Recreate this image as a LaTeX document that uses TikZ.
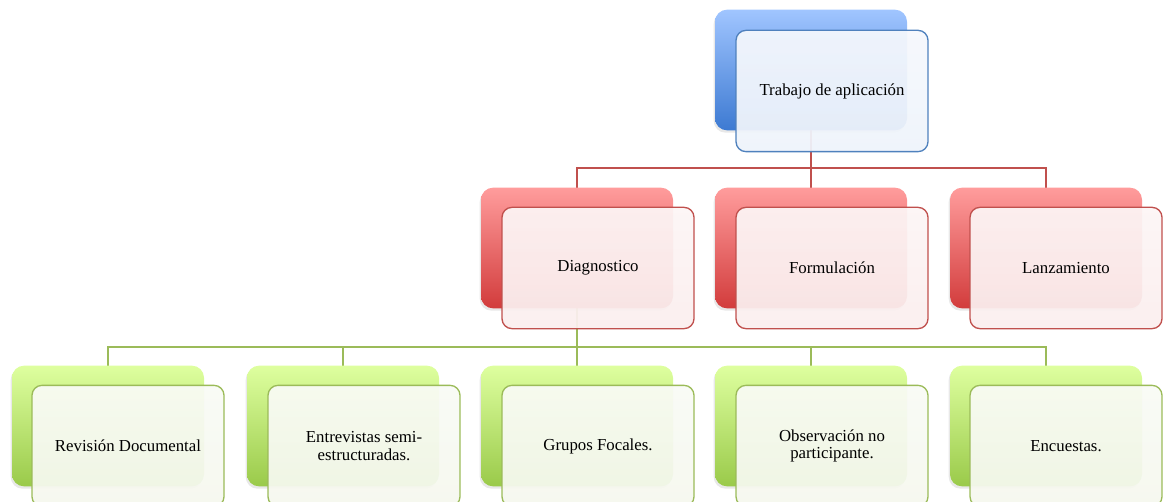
\documentclass[tikz,border=0pt]{standalone}
\usepackage{fontspec}
\setmainfont{Liberation Serif}
\usepackage{xcolor}
\usetikzlibrary{shadows,backgrounds}
\definecolor{bluetop}{HTML}{A0C5FF}
\definecolor{bluebot}{HTML}{3D7AD2}
\definecolor{blueline}{HTML}{4F81BD}
\definecolor{bluefill}{HTML}{EEF3FB}
\definecolor{redtop}{HTML}{FF9C9C}
\definecolor{redbot}{HTML}{D23C3C}
\definecolor{redline}{HTML}{C0504D}
\definecolor{redfill}{HTML}{FBEEEE}
\definecolor{greentop}{HTML}{DEFF9F}
\definecolor{greenbot}{HTML}{9ACA4A}
\definecolor{greenline}{HTML}{9BBB59}
\definecolor{greenfill}{HTML}{F5F8EE}
\tikzset{
every picture/.style={line cap=round,line join=round},
back box/.style={
  rounded corners=9pt,
  minimum width=144pt,
  minimum height=90.5pt,
  inner sep=0pt,
  outer sep=0pt,
  drop shadow={opacity=0.18,shadow xshift=-1pt,shadow yshift=-1.8pt}
},
front box/.style={
  draw,
  rounded corners=7.5pt,
  line width=1pt,
  minimum width=144pt,
  minimum height=91pt,
  inner sep=2pt,
  outer sep=0pt,
  align=center,
  font=\fontsize{12.6}{13}\selectfont,
  fill opacity=0.94,
  text opacity=1
},
blue back/.style={back box, top color=bluetop, bottom color=bluebot},
red back/.style={back box, top color=redtop, bottom color=redbot},
green back/.style={back box, top color=greentop, bottom color=greenbot},
blue front/.style={front box, draw=blueline, top color=bluefill!60!white, bottom color=bluefill},
red front/.style={front box, draw=redline, top color=redfill!60!white, bottom color=redfill},
green front/.style={front box, draw=greenline, top color=greenfill!60!white, bottom color=greenfill},
red link/.style={draw=redline, line width=1.5pt},
green link/.style={draw=greenline, line width=1.5pt}
}
\begin{document}
\begin{tikzpicture}[x=0.75pt,y=-0.75pt]
\useasboundingbox (0,0) rectangle (1163,502);
% top
\node[blue back] (trabajoB) at (811,70) {};
\node[blue front] (trabajo) at (832,91) {Trabajo de aplicación};
% phases
\node[red back] (diagB) at (577,248) {};
\node[red front] (diag) at (598,268) {Diagnostico};
\node[red back] (formB) at (811,248) {};
\node[red front] (form) at (832,268) {Formulación};
\node[red back] (lanzB) at (1046,248) {};
\node[red front] (lanz) at (1066,268) {Lanzamiento};
% techniques
\node[green back] (revB) at (108,426) {};
\node[green front] (rev) at (128,446) {Revisión Documental};
\node[green back] (entB) at (343,426) {};
\node[green front] (ent) at (364,446) {Entrevistas semi-\\estructuradas.};
\node[green back] (grupB) at (577,426) {};
\node[green front] (grup) at (598,446) {Grupos Focales.};
\node[green back] (obsB) at (811,426) {};
\node[green front] (obs) at (832,446) {Observación no\\participante.};
\node[green back] (encB) at (1046,426) {};
\node[green front] (enc) at (1066,446) {Encuestas.};
% connectors
\coordinate (redbus) at (811,168);
\coordinate (greenbus) at (577,347);
\begin{scope}[on background layer]
\draw[red link] (trabajoB.south) -- (redbus);
\draw[red link] (redbus) -| (diagB.north);
\draw[red link] (redbus) -- (formB.north);
\draw[red link] (redbus) -| (lanzB.north);
\draw[green link] (diagB.south) -- (greenbus);
\draw[green link] (greenbus) -| (revB.north);
\draw[green link] (greenbus) -| (entB.north);
\draw[green link] (greenbus) -- (grupB.north);
\draw[green link] (greenbus) -| (obsB.north);
\draw[green link] (greenbus) -| (encB.north);
\end{scope}
\end{tikzpicture}
\end{document}
